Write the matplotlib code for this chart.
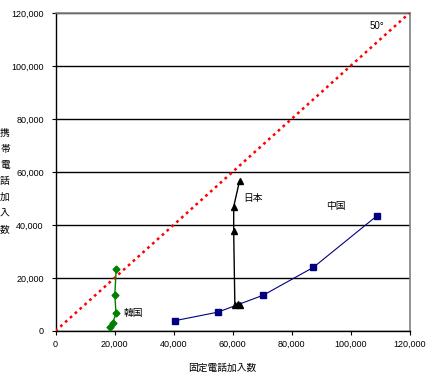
import matplotlib
matplotlib.use("Agg")
import matplotlib.pyplot as plt
from matplotlib.ticker import FuncFormatter

# Data (thousands)
korea_fixed = [18600, 19400, 20500, 20100, 20600]
korea_mobile = [1600, 3100, 6700, 13700, 23500]
japan_fixed = [62600, 61800, 60800, 60400, 60400, 62400]
japan_mobile = [9900, 10100, 9700, 37900, 46900, 56700]
china_fixed = [40500, 55000, 70400, 87400, 108900]
china_mobile = [3900, 7100, 13500, 24000, 43400]
ref_x = [0, 120000]
ref_y = [0, 120000]
ticks = [0, 20000, 40000, 60000, 80000, 100000, 120000]

num_font = "Liberation Sans"
jp_font = ["Noto Sans CJK JP", "DejaVu Sans"]

fig = plt.figure(figsize=(4.28, 3.78), dpi=100)
ax = fig.add_axes([55.5/428, 47/378, 354/428, 318/378])

ax.plot(ref_x, ref_y, color="#ff0000", lw=1.8, dashes=(1.1, 1.5), zorder=3)
ax.plot(china_fixed, china_mobile, color="#000080", lw=0.8, marker="s", ms=4,
        mfc="#000080", mec="#000080", zorder=4)
ax.plot(japan_fixed, japan_mobile, color="black", lw=1.0, marker="^", ms=4.5,
        mfc="black", mec="black", zorder=4)
ax.plot(korea_fixed, korea_mobile, color="#008000", lw=1.0, marker="D", ms=3.5,
        mfc="#008000", mec="#008000", zorder=4)

ax.set_xlim(0, 120000)
ax.set_ylim(0, 120000)
ax.set_xticks(ticks)
ax.set_yticks(ticks)
fmt = FuncFormatter(lambda v, p: f"{int(v):,}")
ax.xaxis.set_major_formatter(fmt)
ax.yaxis.set_major_formatter(fmt)
ax.tick_params(axis="both", direction="out", length=3, width=0.8, color="black",
               labelsize=6.5)
ax.tick_params(axis="y", pad=5.5)
ax.tick_params(axis="x", pad=3.5)
for lab in ax.get_xticklabels() + ax.get_yticklabels():
    lab.set_fontfamily(num_font)

ax.yaxis.grid(True, color="black", lw=1.0)
ax.set_axisbelow(True)
for s in ["left", "bottom"]:
    ax.spines[s].set_color("black")
    ax.spines[s].set_linewidth(1.0)
for s in ["top", "right"]:
    ax.spines[s].set_color("#808080")
    ax.spines[s].set_linewidth(1.2)

# series labels
ax.text(23000, 6700, "韓国", family=jp_font, fontsize=7, va="center", ha="left")
ax.text(63500, 50000, "日本", family=jp_font, fontsize=7, va="center", ha="left")
ax.text(95000, 47000, "中国", family=jp_font, fontsize=7, va="center", ha="center")
ax.text(109000, 115000, "50°", family=num_font, fontsize=7, va="center", ha="center")

# axis titles
fig.text(222/428, 1 - 368/378, "固定電話加入数", family=jp_font, fontsize=7,
         ha="center", va="center")
fig.text(5/428, 1 - 181/378, "\n".join("携帯電話加入数"), family=jp_font,
         fontsize=7, ha="center", va="center", linespacing=1.75)

fig.savefig("out.png", dpi=100)
